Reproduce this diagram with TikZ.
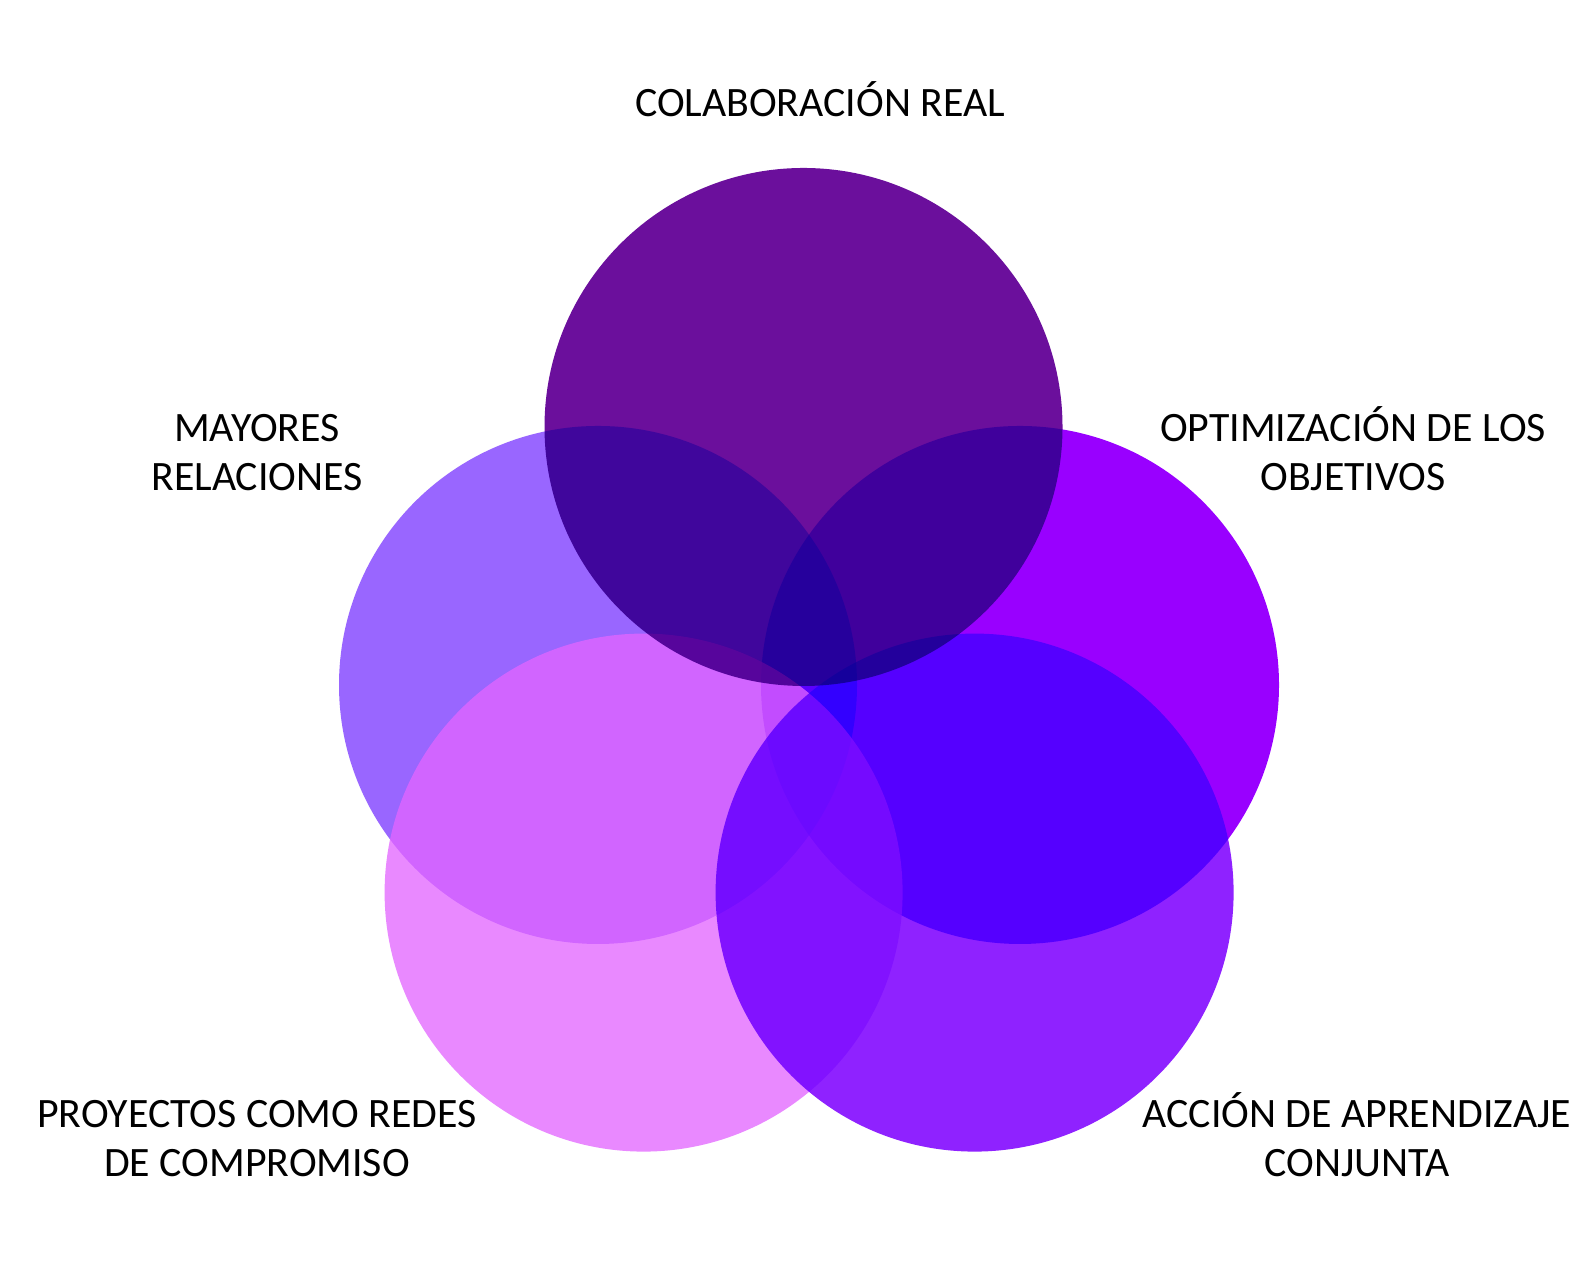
\documentclass[tikz,border=0pt]{standalone}
\usepackage{fontspec}
\setmainfont{Carlito}
\definecolor{ctop}{HTML}{6B0F9C}
\definecolor{cleft}{HTML}{9966FF}
\definecolor{cright}{HTML}{9900FF}
\definecolor{cbl}{HTML}{E365FF}
\definecolor{cbr}{HTML}{8F22FF}
\begin{document}
\begin{tikzpicture}[
  disc/.style={circle, minimum size=5.18cm, inner sep=0pt, draw=none},
  lbl/.style={align=center, font=\fontsize{11.9}{14.1}\selectfont, inner sep=0pt, anchor=base}
]
\useasboundingbox[fill=white] (0,0) rectangle (15.85,12.68);
\node[disc, fill=cleft] (left) at (5.98,5.83) {};
\begin{scope}[blend mode=multiply]
\node[disc, fill=cright] (right) at (10.20,5.83) {};
\end{scope}
\node[disc, fill=cbl, fill opacity=0.76] (bl) at (6.436,3.754) {};
\begin{scope}[blend mode=multiply]
\node[disc, fill=cbr] (br) at (9.746,3.754) {};
\node[disc, fill=ctop] (top) at (8.035,8.41) {};
\end{scope}
\node[lbl] (ltop) at (8.20,11.51) {COLABORACIÓN REAL};
\node[lbl] (lleft) at (2.57,7.77) {MAYORES\\RELACIONES};
\node[lbl] (lright) at (13.53,7.77) {OPTIMIZACIÓN DE LOS\\OBJETIVOS};
\node[lbl] (lbl) at (2.57,0.91) {PROYECTOS COMO REDES\\DE COMPROMISO};
\node[lbl] (lbr) at (13.57,0.91) {ACCIÓN DE APRENDIZAJE\\CONJUNTA};
\end{tikzpicture}
\end{document}
